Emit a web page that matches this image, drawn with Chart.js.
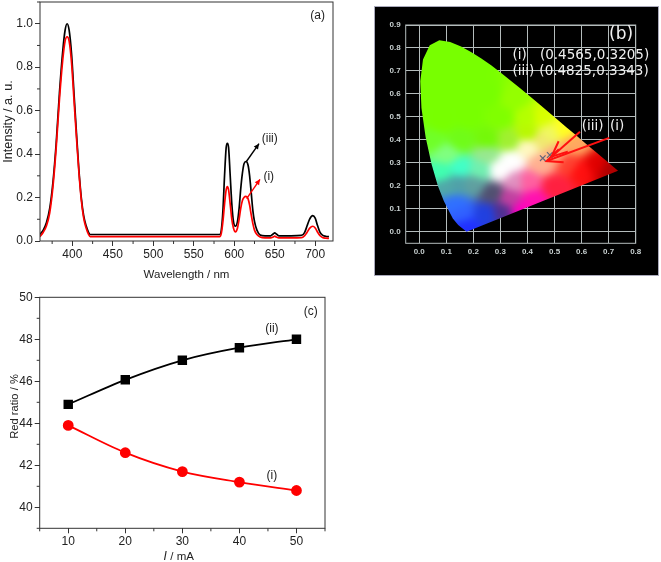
<!DOCTYPE html>
<html>
<head>
<meta charset="utf-8">
<script src="https://cdn.jsdelivr.net/npm/chart.js@4"></script>
<style>
  html, body { margin: 0; padding: 0; background: #fff; }
  body { position: relative; width: 661px; height: 562px; overflow: hidden; }
  canvas { position: absolute; display: block; }
</style>
</head>
<body>
<canvas id="panelA" width="340" height="285" style="left:0;top:0"></canvas>
<canvas id="panelB" width="283" height="268" style="left:375px;top:7px;background:#000;outline:1px solid #aab"></canvas>
<canvas id="panelC" width="340" height="277" style="left:0;top:285px"></canvas>
<script>
// panel (a) spectra
var wavelength = [360,364,368,372,376,380,384,388,391,393.5,396,399,402,405,408,411,414,417,420,422,
  582,584,586,588,590,591.5,593,595,597,599,601.5,604,606,608,610,612,614.5,617,619,621,623,625,628,632,638,645,648,650,652,655,670,683,687,690,693,697,700,703,706,709,713,717];
var intensityIII = [.03,.05,.085,.15,.27,.45,.68,.87,.97,1,.97,.86,.68,.5,.33,.2,.115,.07,.04,.03,
  .03,.05,.14,.30,.43,.45,.43,.30,.17,.09,.068,.09,.15,.24,.31,.355,.366,.35,.30,.22,.14,.09,.05,.028,.024,.024,.032,.038,.032,.024,.024,.026,.04,.07,.10,.117,.105,.07,.04,.027,.022,.02];
var intensityI = [.02,.04,.07,.13,.25,.43,.65,.83,.92,.94,.92,.82,.65,.48,.32,.19,.105,.06,.03,.02,
  .02,.035,.09,.17,.235,.25,.235,.17,.10,.06,.042,.06,.10,.15,.185,.20,.205,.195,.165,.12,.08,.05,.03,.018,.014,.014,.018,.022,.018,.014,.014,.015,.025,.04,.058,.068,.06,.04,.024,.016,.013,.012];
var aXTicks = [400,450,500,550,600,650,700];
var aXMinor = [375,425,475,525,575,625,675];
var aYTicks = [0,.2,.4,.6,.8,1];
var aYMinor = [.1,.3,.5,.7,.9,1.1];

// panel (b) chromaticity diagram
var locusX = [.175,.144,.1241,.0913,.0687,.0454,.0235,.0082,.0039,.0139,.0389,.0743,.1142,.1547,.1929,.2296,.2658,.3016,.3373,.3731,.4087,.4441,.4788,.5125,.5448,.5752,.6029,.627,.6482,.6658,.6801,.7347,.175];
var locusY = [0,.0297,.0578,.1327,.2007,.295,.4127,.5384,.6548,.7502,.812,.8338,.8262,.8059,.7816,.7543,.7243,.6923,.6589,.6245,.5896,.5547,.5202,.4866,.4544,.4242,.3965,.3725,.3514,.334,.3197,.2653,0];
var cieX = [.4565,.4825];
var cieY = [.3205,.3343];
var bXTicks = [0,.1,.2,.3,.4,.5,.6,.7,.8];
var bYTicks = [0,.1,.2,.3,.4,.5,.6,.7,.8,.9];
// colour field of the diagram: x, y, colour
var fieldColours = [
  [.1,.6,'#78ff00'],[.25,.6,'#78ff00'],[.1,.78,'#78ff00'],[.02,.6,'#78ff00'],[.05,.7,'#78ff00'],[.18,.72,'#78ff00'],[.18,.5,'#78ff00'],[.08,.48,'#78ff00'],[.3,.5,'#80ff00'],
  [.35,.58,'#94ff00'],[.4,.5,'#b4ff00'],[.45,.5,'#d8ff00'],[.53,.45,'#ffff20'],
  [.4,.43,'#b8f800'],[.48,.43,'#f0f860'],[.15,.4,'#70fc18'],[.25,.4,'#74f808'],[.05,.4,'#70ff28'],[.1,.34,'#80ff80'],[.25,.34,'#98e890'],[.33,.4,'#a0f030'],
  [.15,.28,'#40ffc8'],[.08,.26,'#40ffb0'],[.22,.27,'#70f0b0'],[.1,.2,'#50a8a8'],[.14,.21,'#50a0a8'],[.2,.21,'#60a0a0'],
  [.13,.12,'#3070ff'],[.15,.08,'#3060ff'],[.17,.02,'#2030ff'],[.25,.08,'#2040e0'],[.3,.09,'#503090'],[.27,.17,'#505070'],
  [.38,.09,'#ff00c0'],[.42,.14,'#ff10b0'],[.3,.27,'#ffffff'],[.34,.31,'#ffffff'],[.4,.37,'#fff8c0'],[.45,.4,'#f0e870'],
  [.45,.3,'#ffb090'],[.4,.22,'#ff60a0'],[.5,.2,'#ff2040'],[.5,.34,'#ffb080'],[.55,.3,'#ff4030'],[.6,.27,'#ff1010'],
  [.65,.29,'#e00000'],[.7,.27,'#b00000'],[.57,.38,'#ffa860'],[.35,.22,'#e090c0'],[.33,.15,'#c040a0']
];

// panel (c) red ratio
var current = [10,20,30,40,50];
var ratioII = [44.9,46.07,47.0,47.6,48.0];
var ratioI = [43.9,42.6,41.7,41.2,40.8];
var cXTicks = [10,20,30,40,50];
var cXMinor = [5,15,25,35,45,55];
var cYTicks = [40,42,44,46,48,50];
var cYMinor = [39,41,43,45,47,49];

function toPoints(xs, ys){
  return xs.map(function(v, i){ return {x: v, y: ys[i]}; });
}

var sansFont = '"Liberation Sans", Arial, sans-serif';
var axisColour = '#333';

// frame, minor ticks, text notes and arrows, all placed in data values
var decorate = {
  id: 'decorate',
  afterDatasetsDraw: function(chart, args, o){
    var ctx = chart.ctx, a = chart.chartArea, sx = chart.scales.x, sy = chart.scales.y;
    ctx.save();
    ctx.strokeStyle = o.frame;
    ctx.lineWidth = 1;
    ctx.strokeRect(a.left, a.top, a.right - a.left, a.bottom - a.top);
    ctx.beginPath();
    (o.xMinor || []).forEach(function(v){
      var p = sx.getPixelForValue(v);
      ctx.moveTo(p, a.bottom); ctx.lineTo(p, a.bottom + 3);
    });
    (o.yMinor || []).forEach(function(v){
      var p = sy.getPixelForValue(v);
      ctx.moveTo(a.left, p); ctx.lineTo(a.left - 3, p);
    });
    ctx.stroke();
    (o.arrows || []).forEach(function(r){
      var x0 = sx.getPixelForValue(r.from[0]), y0 = sy.getPixelForValue(r.from[1]);
      var x1 = sx.getPixelForValue(r.to[0]), y1 = sy.getPixelForValue(r.to[1]);
      var ang = Math.atan2(y1 - y0, x1 - x0);
      ctx.strokeStyle = r.colour; ctx.fillStyle = r.colour; ctx.lineWidth = r.width;
      ctx.beginPath(); ctx.moveTo(x0, y0); ctx.lineTo(x1, y1); ctx.stroke();
      ctx.beginPath();
      ctx.moveTo(x1 - r.head * Math.cos(ang - r.spread), y1 - r.head * Math.sin(ang - r.spread));
      ctx.lineTo(x1, y1);
      ctx.lineTo(x1 - r.head * Math.cos(ang + r.spread), y1 - r.head * Math.sin(ang + r.spread));
      if (r.open) ctx.stroke(); else { ctx.closePath(); ctx.fill(); }
    });
    (o.notes || []).forEach(function(n){
      ctx.save();
      ctx.font = n.font;
      ctx.fillStyle = n.colour;
      ctx.textAlign = n.align || 'left';
      ctx.textBaseline = 'middle';
      ctx.translate(sx.getPixelForValue(n.x), sy.getPixelForValue(n.y));
      if (n.upright) ctx.rotate(-Math.PI / 2);
      ctx.fillText(n.text, 0, 0);
      ctx.restore();
    });
    ctx.restore();
  }
};

// builds the colour field as a pattern once the scales are laid out
var colourField = {
  id: 'colourField',
  afterLayout: function(chart){
    var ds = chart.data.datasets.find(function(d){ return d.label === 'locus'; });
    if (!ds || ds.backgroundColor instanceof CanvasPattern) return;
    var sx = chart.scales.x, sy = chart.scales.y, a = chart.chartArea;
    var raw = document.createElement('canvas');
    raw.width = chart.width; raw.height = chart.height;
    var c = raw.getContext('2d');
    var img = c.createImageData(raw.width, raw.height);
    var anchors = fieldColours.map(function(f){
      var n = parseInt(f[2].slice(1), 16);
      return [f[0], f[1], n >> 16, (n >> 8) & 255, n & 255];
    });
    for (var py = Math.floor(a.top); py < a.bottom; py++){
      for (var px = Math.floor(a.left); px < a.right; px++){
        var vx = sx.getValueForPixel(px), vy = sy.getValueForPixel(py);
        var w = 0, r = 0, g = 0, b = 0;
        anchors.forEach(function(f){
          var d = (f[0] - vx) * (f[0] - vx) + (f[1] - vy) * (f[1] - vy) + 6e-4;
          var k = 1 / (d * d * d);
          w += k; r += k * f[2]; g += k * f[3]; b += k * f[4];
        });
        var i = (py * raw.width + px) * 4;
        img.data[i] = r / w; img.data[i + 1] = g / w; img.data[i + 2] = b / w; img.data[i + 3] = 255;
      }
    }
    c.putImageData(img, 0, 0);
    // soften the seams between anchors
    var off = document.createElement('canvas');
    off.width = raw.width; off.height = raw.height;
    var soft = off.getContext('2d');
    soft.filter = 'blur(3px)';
    soft.drawImage(raw, 0, 0);
    ds.backgroundColor = chart.ctx.createPattern(off, 'no-repeat');
  }
};

function fixedTicks(list){
  return function(scale){
    scale.ticks = list.map(function(v){ return {value: v}; });
  };
}

function xyScale(size, list, digits, title, extra){
  var s = {
    type: 'linear',
    min: extra.min,
    max: extra.max,
    afterBuildTicks: fixedTicks(list),
    afterFit: function(scale){
      if (scale.axis === 'x') scale.height = size; else scale.width = size;
      // the frame has to stay where the reference has it, labels may overhang
      scale.paddingTop = scale.paddingBottom = scale.paddingLeft = scale.paddingRight = 0;
    },
    border: {display: false},
    grid: extra.grid,
    ticks: {
      autoSkip: false,
      maxRotation: 0,
      padding: extra.pad,
      color: extra.colour,
      font: extra.font,
      callback: function(v){ return Number(v).toFixed(digits); }
    }
  };
  if (title) s.title = {display: true, text: title, color: extra.colour, font: {family: sansFont, size: extra.titleSize}, padding: extra.titlePad};
  return s;
}

var lightGrid = {drawOnChartArea: false, tickLength: 5, tickColor: axisColour, lineWidth: 1};
var lightFont = {family: sansFont, size: 12};
var baseOptions = {responsive: false, animation: false, events: []};

new Chart(document.getElementById('panelA'), {
  type: 'scatter',
  plugins: [decorate],
  data: {datasets: [
    {label: '(i)', data: toPoints(wavelength, intensityI), showLine: true, pointRadius: 0, borderColor: '#ff0000', borderWidth: 1.7, cubicInterpolationMode: 'monotone'},
    {label: '(iii)', data: toPoints(wavelength, intensityIII), showLine: true, pointRadius: 0, borderColor: '#000', borderWidth: 1.7, cubicInterpolationMode: 'monotone'}
  ]},
  options: Object.assign({}, baseOptions, {
    layout: {padding: {top: 2, right: 7}},
    scales: {
      x: xyScale(44, aXTicks, 0, 'Wavelength / nm', {min: 360, max: 722, grid: lightGrid, pad: 1, colour: '#222', font: lightFont, titleSize: 11.5, titlePad: {top: 0, bottom: 3}}),
      y: xyScale(40, aYTicks, 1, 'Intensity / a. u.', {min: 0, max: 1.1, grid: lightGrid, pad: 2, colour: '#222', font: lightFont, titleSize: 12.7, titlePad: {top: 1, bottom: 0}})
    },
    plugins: {
      legend: {display: false},
      tooltip: {enabled: false},
      decorate: {
        frame: axisColour, xMinor: aXMinor, yMinor: aYMinor,
        arrows: [
          {from: [615, .366], to: [630.6, .448], colour: '#000', width: 1.4, head: 6, spread: .45},
          {from: [615.3, .195], to: [631.8, .284], colour: '#ff0000', width: 1.4, head: 6, spread: .45}
        ],
        notes: [
          {text: '(a)', x: 703, y: 1.038, font: '12px ' + sansFont, colour: '#222', align: 'center'},
          {text: '(iii)', x: 634, y: .472, font: '12px ' + sansFont, colour: '#222'},
          {text: '(i)', x: 636, y: .294, font: '12px ' + sansFont, colour: '#222'}
        ]
      }
    }
  })
});

var darkGrid = {color: '#b4bcbc', lineWidth: 1, drawTicks: false};
var darkFont = {family: sansFont, size: 8, weight: 'bold'};
var noteFont = '13.5px "DejaVu Sans", sans-serif';

new Chart(document.getElementById('panelB'), {
  type: 'scatter',
  plugins: [colourField, decorate],
  data: {datasets: [
    {label: 'colour points', data: toPoints(cieX, cieY), pointStyle: 'crossRot', pointRadius: 4, pointBorderColor: '#667', pointBorderWidth: 1.2},
    {label: 'locus', data: toPoints(locusX, locusY), showLine: true, pointRadius: 0, borderWidth: 0, borderColor: 'transparent', backgroundColor: '#70ff00', fill: 'shape'}
  ]},
  options: Object.assign({}, baseOptions, {
    layout: {padding: {top: 18, right: 22.3}},
    scales: {
      x: xyScale(31.7, bXTicks, 1, null, {min: -.05, max: .8, grid: darkGrid, pad: 4, colour: '#c8d0d0', font: darkFont}),
      y: xyScale(30.7, bYTicks, 1, null, {min: -.05, max: .9, grid: darkGrid, pad: 5, colour: '#c8d0d0', font: darkFont})
    },
    plugins: {
      legend: {display: false},
      tooltip: {enabled: false},
      decorate: {
        frame: '#b4bcbc',
        arrows: [
          {from: [.594, .4355], to: [.489, .327], colour: '#ff1010', width: 2, head: 17, spread: .42, open: true},
          {from: [.702, .409], to: [.471, .308], colour: '#ff1010', width: 2, head: 17, spread: .42, open: true}
        ],
        notes: [
          {text: '(b)', x: .746, y: .857, font: '17px "DejaVu Sans", sans-serif', colour: '#f0f0f0', align: 'center'},
          {text: '(i)', x: .345, y: .767, font: noteFont, colour: '#f0f0f0'},
          {text: '(0.4565,0.3205)', x: .446, y: .767, font: noteFont, colour: '#f0f0f0'},
          {text: '(iii)', x: .345, y: .696, font: noteFont, colour: '#f0f0f0'},
          {text: '(0.4825,0.3343)', x: .444, y: .696, font: noteFont, colour: '#f0f0f0'},
          {text: '(iii)', x: .601, y: .457, font: noteFont, colour: '#f0f0f0'},
          {text: '(i)', x: .705, y: .457, font: noteFont, colour: '#f0f0f0'}
        ]
      }
    }
  })
});

new Chart(document.getElementById('panelC'), {
  type: 'scatter',
  plugins: [decorate],
  data: {datasets: [
    {label: '(ii)', data: toPoints(current, ratioII), showLine: true, pointStyle: 'rect', pointRadius: 5.4, pointBackgroundColor: '#000', pointBorderColor: '#000', borderColor: '#000', borderWidth: 1.8, cubicInterpolationMode: 'monotone'},
    {label: '(i)', data: toPoints(current, ratioI), showLine: true, pointStyle: 'circle', pointRadius: 4.5, pointBackgroundColor: '#ff0000', pointBorderColor: '#ff0000', borderColor: '#ff0000', borderWidth: 1.8, cubicInterpolationMode: 'monotone'}
  ]},
  options: Object.assign({}, baseOptions, {
    layout: {padding: {top: 12.3, right: 15}},
    scales: {
      x: xyScale(33.7, cXTicks, 0, null, {min: 5, max: 55, grid: lightGrid, pad: 1, colour: '#222', font: lightFont}),
      y: xyScale(39.7, cYTicks, 0, null, {min: 39, max: 50, grid: lightGrid, pad: 2, colour: '#222', font: lightFont})
    },
    plugins: {
      legend: {display: false},
      tooltip: {enabled: false},
      decorate: {
        frame: axisColour, xMinor: cXMinor, yMinor: cYMinor,
        notes: [
          {text: '(c)', x: 52.5, y: 49.3, font: '12px ' + sansFont, colour: '#222', align: 'center'},
          {text: '(ii)', x: 45.7, y: 48.5, font: '12px ' + sansFont, colour: '#222', align: 'center'},
          {text: '(i)', x: 45.7, y: 41.5, font: '12px ' + sansFont, colour: '#222', align: 'center'},
          {text: 'Red ratio / %', x: 0.6, y: 44.8, font: '11.2px ' + sansFont, colour: '#222', align: 'center', upright: true},
          {text: 'I', x: 27, y: 37.65, font: 'italic 12px ' + sansFont, colour: '#222', align: 'center'},
          {text: '/ mA', x: 27.9, y: 37.65, font: '11.5px ' + sansFont, colour: '#222'}
        ]
      }
    }
  })
});
</script>
</body>
</html>
